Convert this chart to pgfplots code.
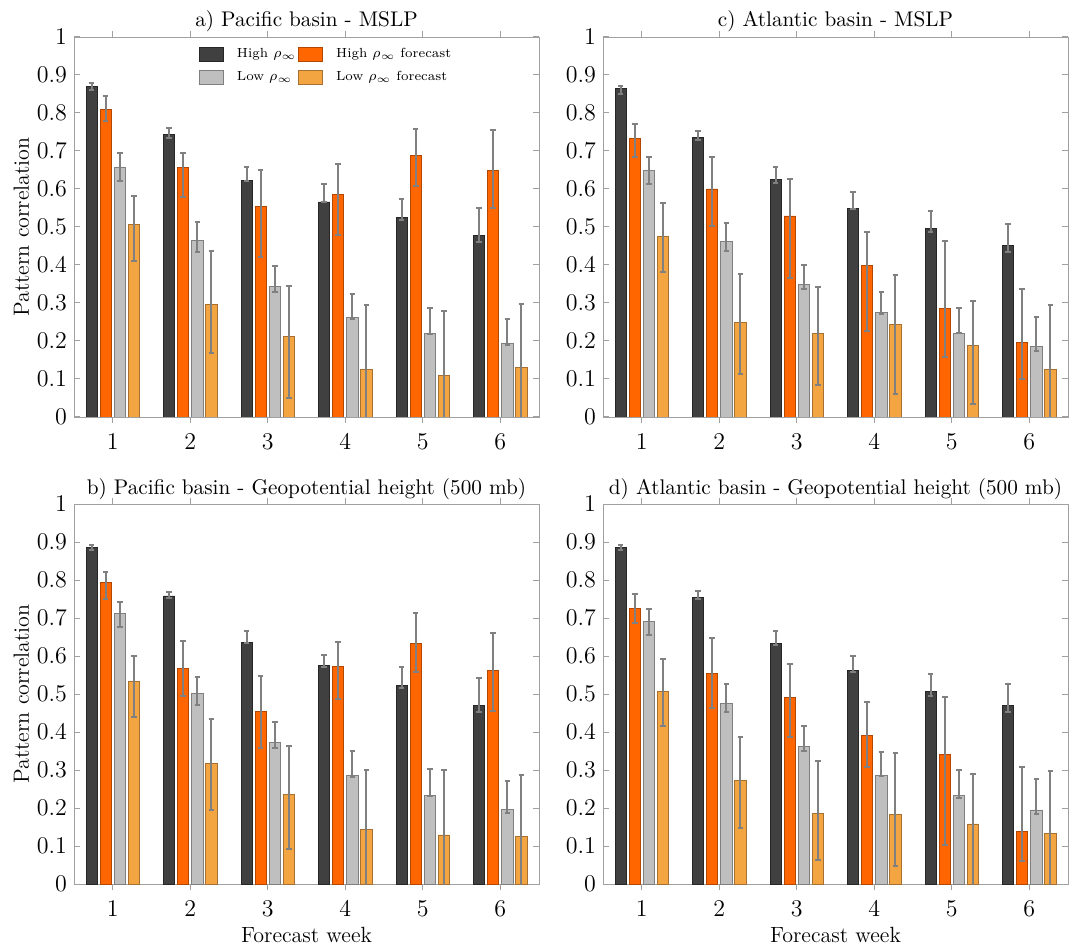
\documentclass[border=0pt]{standalone}
\usepackage{pgfplots}
\usepackage{pgfplotstable}
\pgfplotsset{compat=1.18}

\definecolor{cD}{HTML}{404040}
\definecolor{eD}{HTML}{262626}
\definecolor{cO}{HTML}{FF6600}
\definecolor{eO}{HTML}{B34700}
\definecolor{cG}{HTML}{BFBFBF}
\definecolor{eG}{HTML}{7F7F7F}
\definecolor{cL}{HTML}{F3A542}
\definecolor{eL}{HTML}{A87030}
\definecolor{errgray}{HTML}{808080}
\definecolor{axgray}{HTML}{A0A0A0}

% columns: week, value, upper, lower for each of the four series
\pgfplotstableread{
x D Dh Dl O Oh Ol G Gh Gl L Lh Ll
1 0.870 0.879 0.861 0.810 0.844 0.780 0.657 0.696 0.620 0.507 0.582 0.410
2 0.743 0.760 0.733 0.656 0.696 0.580 0.465 0.514 0.433 0.297 0.437 0.169
3 0.622 0.659 0.620 0.553 0.649 0.422 0.344 0.398 0.330 0.213 0.345 0.050
4 0.566 0.613 0.565 0.586 0.665 0.479 0.262 0.323 0.257 0.125 0.296 -0.05
5 0.524 0.574 0.518 0.688 0.757 0.608 0.220 0.286 0.218 0.109 0.279 -0.05
6 0.477 0.549 0.461 0.649 0.755 0.549 0.193 0.257 0.189 0.130 0.297 -0.05
}\tA
\pgfplotstableread{
x D Dh Dl O Oh Ol G Gh Gl L Lh Ll
1 0.885 0.891 0.879 0.794 0.820 0.751 0.711 0.742 0.676 0.533 0.601 0.440
2 0.758 0.768 0.753 0.567 0.639 0.496 0.502 0.546 0.472 0.317 0.434 0.195
3 0.636 0.667 0.634 0.454 0.548 0.357 0.373 0.427 0.359 0.235 0.364 0.091
4 0.574 0.602 0.572 0.573 0.638 0.488 0.286 0.349 0.282 0.143 0.300 -0.05
5 0.523 0.570 0.516 0.634 0.713 0.557 0.232 0.302 0.231 0.129 0.299 -0.05
6 0.469 0.542 0.452 0.562 0.660 0.456 0.196 0.270 0.186 0.126 0.287 -0.05
}\tB
\pgfplotstableread{
x D Dh Dl O Oh Ol G Gh Gl L Lh Ll
1 0.864 0.870 0.851 0.732 0.771 0.685 0.649 0.685 0.612 0.475 0.562 0.382
2 0.735 0.753 0.729 0.600 0.683 0.503 0.462 0.511 0.438 0.248 0.376 0.114
3 0.625 0.659 0.617 0.529 0.625 0.366 0.349 0.400 0.336 0.219 0.342 0.085
4 0.549 0.591 0.547 0.399 0.488 0.226 0.276 0.330 0.271 0.243 0.373 0.060
5 0.496 0.542 0.488 0.286 0.463 0.158 0.221 0.286 0.220 0.188 0.305 0.035
6 0.451 0.507 0.433 0.195 0.336 0.101 0.186 0.264 0.174 0.124 0.294 -0.05
}\tC
\pgfplotstableread{
x D Dh Dl O Oh Ol G Gh Gl L Lh Ll
1 0.885 0.892 0.879 0.724 0.763 0.686 0.691 0.725 0.654 0.507 0.592 0.416
2 0.755 0.772 0.749 0.555 0.647 0.464 0.474 0.526 0.452 0.272 0.388 0.148
3 0.634 0.666 0.630 0.491 0.579 0.388 0.362 0.416 0.349 0.186 0.324 0.062
4 0.561 0.601 0.559 0.392 0.478 0.309 0.286 0.348 0.283 0.182 0.344 0.047
5 0.506 0.553 0.496 0.342 0.491 0.102 0.232 0.300 0.227 0.158 0.290 -0.05
6 0.469 0.526 0.452 0.138 0.308 0.060 0.195 0.276 0.185 0.134 0.297 -0.05
}\tD

\pgfplotsset{
  every axis title/.style={at={(0.5,1)}, anchor=base, yshift=5pt,
    font=\fontsize{10.6}{13}\selectfont},
  panel/.style={
    scale only axis, width=232.5pt, height=190pt,
    xmin=0.5, xmax=6.5, ymin=0, ymax=1,
    xtick={1,2,3,4,5,6},
    ytick={0,0.1,0.2,0.3,0.4,0.5,0.6,0.7,0.8,0.9,1},
    yticklabel style={/pgf/number format/fixed, /pgf/number format/precision=1},
    tick label style={font=\fontsize{11.5}{13}\selectfont},
    xticklabel style={yshift=-2pt},
    axis line style={draw=axgray},
    tick style={draw=axgray, line width=0.5pt},
    major tick length=3pt,
    label style={font=\fontsize{11}{13}\selectfont},
    xlabel style={at={(axis description cs:0.5,0)}, anchor=base, yshift=-29pt},
    ylabel style={at={(axis description cs:-0.097,0.5)}, anchor=base, rotate=0},
    ybar, bar width=0.145,
    clip=true,
    legend image code/.code={\draw[#1] (5pt,-3.6pt) rectangle (17pt,3.6pt);},
  },
  ebar/.style={error bars/.cd, y dir=both, y explicit,
    error bar style={draw=errgray, line width=1.1pt},
    error mark options={draw=errgray, line width=1pt, mark size=1.4pt, rotate=90}},
}

\newcommand{\bars}[1]{%
  \addplot[fill=cD, draw=eD, line width=0.4pt, bar shift=-0.272, ebar]
    table[x=x, y=D, y error plus expr=\thisrow{Dh}-\thisrow{D}, y error minus expr=\thisrow{D}-\thisrow{Dl}] {#1};
  \addplot[fill=cO, draw=eO, line width=0.4pt, bar shift=-0.091, ebar]
    table[x=x, y=O, y error plus expr=\thisrow{Oh}-\thisrow{O}, y error minus expr=\thisrow{O}-\thisrow{Ol}] {#1};
  \addplot[fill=cG, draw=eG, line width=0.4pt, bar shift=0.091, ebar]
    table[x=x, y=G, y error plus expr=\thisrow{Gh}-\thisrow{G}, y error minus expr=\thisrow{G}-\thisrow{Gl}] {#1};
  \addplot[fill=cL, draw=eL, line width=0.4pt, bar shift=0.272, ebar]
    table[x=x, y=L, y error plus expr=\thisrow{Lh}-\thisrow{L}, y error minus expr=\thisrow{L}-\thisrow{Ll}] {#1};
}

\begin{document}
\begin{tikzpicture}
\path[use as bounding box] (0,0) rectangle (535.5pt,474.5pt);

\begin{axis}[panel, at={(37pt,266pt)}, anchor=south west,
  title={a) Pacific basin - MSLP}, ylabel={Pattern correlation},
  legend style={at={(0.267,0.975)}, anchor=north west, draw=none, fill=none,
    inner sep=0pt, font=\fontsize{6.6}{8}\selectfont, row sep=3.5pt,
    nodes={inner sep=0.8pt},
    /tikz/every even column/.append style={column sep=0pt},
    /tikz/every odd column/.append style={column sep=6pt}},
  legend columns=2, legend cell align=left]
\bars{\tA}
\legend{High $\rho_{\infty}$, High $\rho_{\infty}$ forecast, Low $\rho_{\infty}$, Low $\rho_{\infty}$ forecast}
\end{axis}

\begin{axis}[panel, at={(301.5pt,266pt)}, anchor=south west,
  title={c) Atlantic basin - MSLP}]
\bars{\tC}
\end{axis}

\begin{axis}[panel, at={(37pt,32.5pt)}, anchor=south west,
  title={b) Pacific basin - Geopotential height (500 mb)},
  ylabel={Pattern correlation}, xlabel={Forecast week}]
\bars{\tB}
\end{axis}

\begin{axis}[panel, at={(301.5pt,32.5pt)}, anchor=south west,
  title={d) Atlantic basin - Geopotential height (500 mb)},
  xlabel={Forecast week}]
\bars{\tD}
\end{axis}
\end{tikzpicture}
\end{document}
